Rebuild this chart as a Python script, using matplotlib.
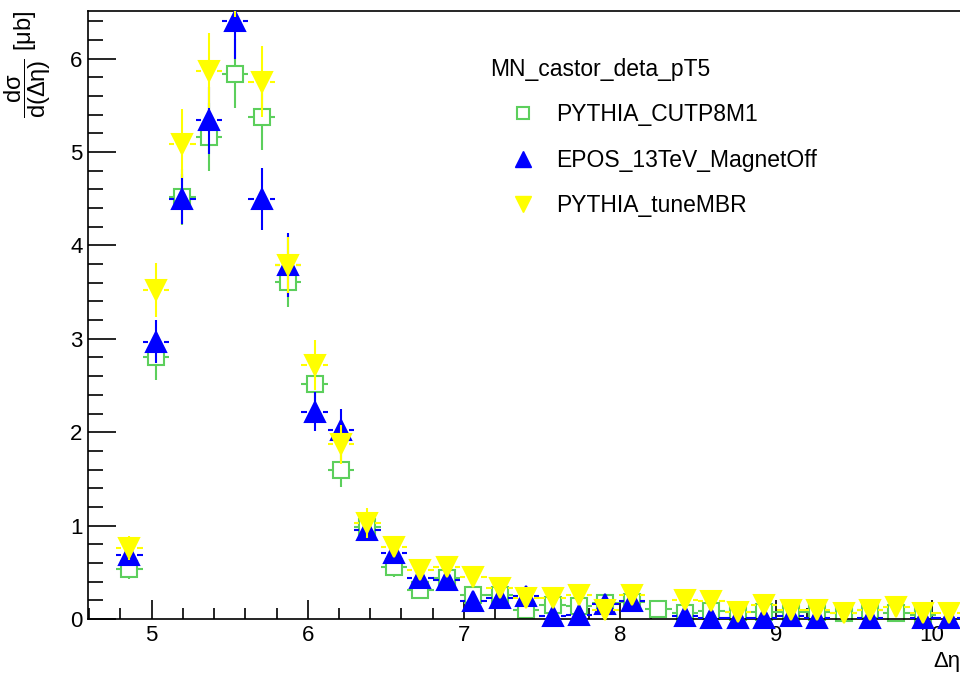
import numpy as np
import matplotlib
matplotlib.use("Agg")
import matplotlib.pyplot as plt
from matplotlib.lines import Line2D
from matplotlib.ticker import MultipleLocator

plt.rcParams['font.family'] = ['Liberation Sans', 'DejaVu Sans']
plt.rcParams['mathtext.fontset'] = 'custom'
plt.rcParams['mathtext.rm'] = 'Liberation Sans'
plt.rcParams['mathtext.it'] = 'Liberation Sans'
plt.rcParams['mathtext.default'] = 'regular'

nan = np.nan

# bin centres in delta eta
deta = [4.857, 5.027, 5.196, 5.366, 5.535, 5.705, 5.874, 6.044, 6.213, 6.383,
        6.552, 6.722, 6.891, 7.061, 7.230, 7.400, 7.569, 7.739, 7.908, 8.078,
        8.247, 8.417, 8.586, 8.756, 8.925, 9.095, 9.264, 9.434, 9.603, 9.773,
        9.942, 10.112]
bin_half = 0.085

cutp8m1 = [0.54, 2.81, 4.52, 5.16, 5.84, 5.38, 3.61, 2.52, 1.60, 0.98,
           0.56, 0.31, 0.44, 0.26, 0.26, 0.10, 0.15, 0.14, 0.17, 0.18,
           0.11, 0.06, 0.09, 0.08, 0.08, 0.07, 0.07, 0.06, 0.10, 0.06,
           0.04, nan]
cutp8m1_err = [0.11, 0.25, 0.30, 0.36, 0.37, 0.36, 0.27, 0.22, 0.19, 0.12,
               0.11, 0.08, 0.09, 0.07, 0.07, 0.06, 0.06, 0.06, 0.06, 0.06,
               0.05, 0.04, 0.04, 0.04, 0.04, 0.04, 0.04, 0.04, 0.04, 0.04,
               0.03, nan]

epos = [0.69, 2.97, 4.50, 5.34, 6.40, 4.50, 3.79, 2.22, 2.02, 0.95,
        0.71, 0.44, 0.42, 0.19, 0.22, 0.25, 0.03, 0.04, 0.16, 0.19,
        nan, 0.03, 0.01, 0.01, 0.01, 0.03, 0.01, nan, 0.01, nan,
        0.01, 0.01]
epos_err = [0.08, 0.23, 0.27, 0.36, 0.40, 0.33, 0.34, 0.21, 0.23, 0.10,
            0.08, 0.07, 0.07, 0.06, 0.06, 0.10, 0.02, 0.03, 0.05, 0.05,
            nan, 0.02, 0.01, 0.01, 0.01, 0.02, 0.01, nan, 0.01, nan,
            0.01, 0.01]

tunembr = [0.76, 3.52, 5.09, 5.87, 6.80, 5.75, 3.79, 2.72, 1.87, 1.03,
           0.77, 0.52, 0.56, 0.45, 0.33, 0.22, 0.22, 0.26, 0.10, 0.26,
           nan, 0.20, 0.19, 0.08, 0.15, 0.10, 0.10, 0.06, 0.10, 0.13,
           0.06, 0.06]
tunembr_err = [0.13, 0.29, 0.37, 0.40, 0.35, 0.38, 0.30, 0.27, 0.21, 0.16,
               0.10, 0.09, 0.09, 0.08, 0.07, 0.06, 0.06, 0.06, 0.04, 0.06,
               nan, 0.05, 0.05, 0.03, 0.04, 0.04, 0.04, 0.03, 0.04, 0.04,
               0.03, 0.03]

green = '#5ccf5c'
blue = '#0000ff'
yellow = '#ffff00'

fig = plt.figure(figsize=(9.6, 6.75), dpi=100)
ax = fig.add_axes([88 / 960, 56 / 675, 1 - 88 / 960, 608 / 675])
xlo, xhi, ylo, yhi = 4.592, 10.18, 0.0, 6.51
ax.set_xlim(xlo, xhi)
ax.set_ylim(ylo, yhi)

# ROOT leaves a gap around the marker when drawing error bars
ax_w = fig.get_figwidth() * fig.dpi * ax.get_position().width
ax_h = fig.get_figheight() * fig.dpi * ax.get_position().height
gap_px = 8.0
gx = gap_px * (xhi - xlo) / ax_w
gy = gap_px * (yhi - ylo) / ax_h


def draw_series(x, y, err, color, marker, ms, filled, z):
    x = np.asarray(x)
    y = np.asarray(y)
    err = np.asarray(err)
    ok = np.isfinite(y)
    x, y, err = x[ok], y[ok], err[ok]
    big = err > gy
    ax.vlines(x[big], y[big] - err[big], y[big] - gy, color=color, lw=1.5, zorder=z)
    ax.vlines(x[big], y[big] + gy, y[big] + err[big], color=color, lw=1.5, zorder=z)
    ax.hlines(y, x - bin_half, x - gx, color=color, lw=1.5, zorder=z)
    ax.hlines(y, x + gx, x + bin_half, color=color, lw=1.5, zorder=z)
    ax.plot(x, y, ls='none', marker=marker, ms=ms,
            mfc=color if filled else 'white', mec=color,
            mew=1.5, zorder=z + 0.5, clip_on=False)


draw_series(deta, cutp8m1, cutp8m1_err, green, 's', 11.5, False, 2)
draw_series(deta, epos, epos_err, blue, '^', 14, True, 3)
draw_series(deta, tunembr, tunembr_err, yellow, 'v', 14, True, 4)

ax.xaxis.set_major_locator(MultipleLocator(1))
ax.xaxis.set_minor_locator(MultipleLocator(0.2))
ax.yaxis.set_major_locator(MultipleLocator(1))
ax.yaxis.set_minor_locator(MultipleLocator(0.2))
ax.tick_params(axis='both', which='both', direction='in', width=1.2,
               labelsize=16, top=False, right=False)
ax.tick_params(axis='x', which='major', length=13.5, pad=4)
ax.tick_params(axis='x', which='minor', length=8)
ax.tick_params(axis='y', which='major', length=20, pad=4)
ax.tick_params(axis='y', which='minor', length=10.5)

for side in ['left', 'bottom', 'top']:
    ax.spines[side].set_linewidth(1.2)
ax.spines['right'].set_visible(False)

ax.set_ylabel(r'$\dfrac{dσ}{d(Δη)}$ [μb]', fontsize=17, loc='top')
ax.yaxis.set_label_coords(-0.04, 1.0)
ax.set_xlabel('Δη', fontsize=16, loc='right')
ax.xaxis.set_label_coords(1.0, -0.052)

handles = [
    Line2D([], [], ls='none', marker='s', ms=9, mfc='white', mec=green, mew=1.5),
    Line2D([], [], ls='none', marker='^', ms=12, mfc=blue, mec=blue),
    Line2D([], [], ls='none', marker='v', ms=12, mfc=yellow, mec=yellow),
]
labels = ['PYTHIA_CUTP8M1', 'EPOS_13TeV_MagnetOff', 'PYTHIA_tuneMBR']
ax.legend(handles, labels, title='MN_castor_deta_pT5', loc='upper left',
          bbox_to_anchor=(490 / 960, 1 - 58 / 675), bbox_transform=fig.transFigure,
          frameon=False, fontsize=16.5, title_fontsize=16.5, alignment='left',
          handlelength=2.9, handletextpad=0.0, labelspacing=0.98,
          borderpad=0, borderaxespad=0)

fig.savefig('out.png', dpi=100)
